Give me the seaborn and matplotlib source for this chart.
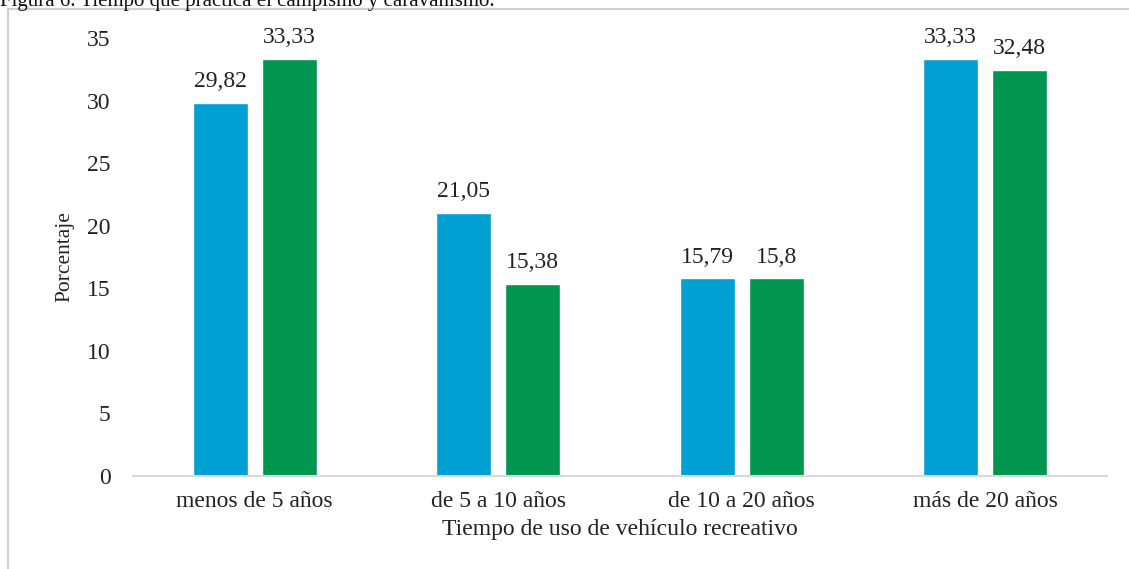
import pandas as pd
import seaborn as sns
import matplotlib.pyplot as plt
from matplotlib.patches import Rectangle

categorias = ["menos de 5 años", "de 5 a 10 años", "de 10 a 20 años", "más de 20 años"]
series = ["Serie 1", "Serie 2"]
valores_azul = [29.82, 21.05, 15.79, 33.33]
valores_verde = [33.33, 15.38, 15.8, 32.48]
colores = ["#00A0D3", "#009650"]
y_ticks = [0, 5, 10, 15, 20, 25, 30, 35]

df = pd.DataFrame({
    "categoria": categorias * 2,
    "serie": [series[0]] * 4 + [series[1]] * 4,
    "valor": valores_azul + valores_verde,
})

sns.set_theme(style="white")
plt.rcParams["font.family"] = ["Liberation Serif", "DejaVu Serif"]

fig = plt.figure(figsize=(11.29, 5.69), dpi=100)
fig.patch.set_facecolor("white")
ax = fig.add_axes([133 / 1129, 93 / 569, 974 / 1129, 438 / 569])
ax.set_facecolor("none")

sns.barplot(data=df, x="categoria", y="valor", hue="serie", order=categorias,
            hue_order=series, palette=colores, saturation=1, width=0.568,
            gap=0.2, legend=False, ax=ax)

for cont, vals in zip(ax.containers, [valores_azul, valores_verde]):
    etiquetas = [f"{v:g}".replace(".", ",") for v in vals]
    ax.bar_label(cont, labels=etiquetas, padding=7.5, fontsize=17, color="#222222")

ax.set_xlim(-0.5, 3.5)
ax.set_ylim(0, 35)
ax.set_yticks(y_ticks)
ax.tick_params(axis="y", length=0, pad=16, labelsize=17, labelcolor="#222222")
ax.tick_params(axis="x", length=0, pad=11, labelsize=17, labelcolor="#222222")

for s in ["top", "right", "left"]:
    ax.spines[s].set_visible(False)
ax.spines["bottom"].set_color("#d9d9d9")
ax.spines["bottom"].set_linewidth(1.5)

ax.set_xlabel("Tiempo de uso de vehículo recreativo", fontsize=17, color="#222222")
ax.xaxis.set_label_coords(0.5, -0.098)
ax.set_ylabel("Porcentaje", fontsize=15.5, color="#222222")
ax.yaxis.set_label_coords(-0.0698, 0.5)
ax.yaxis.label.set_verticalalignment("center")

# marco exterior del gráfico
fig.add_artist(Rectangle((8 / 1129, -0.05), 1.1, 1 - 9 / 569 + 0.05,
                         transform=fig.transFigure, fill=False,
                         edgecolor="#d0d0d0", linewidth=1.5))

fig.text(0.0, 1 - 6 / 569, "Figura 6. Tiempo que práctica el campismo y caravanismo.",
         ha="left", va="baseline", fontsize=15, color="#111111")

fig.savefig("out.png", dpi=100)
